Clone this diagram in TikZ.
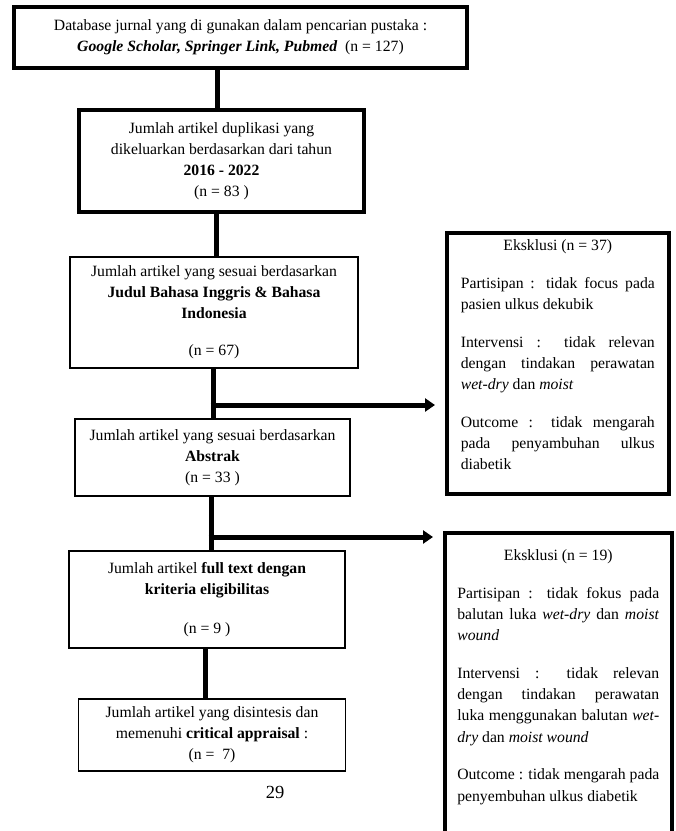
\documentclass[tikz,border=0pt]{standalone}
\usepackage{fontspec}
\setmainfont{Liberation Serif}
\usetikzlibrary{arrows.meta}

\tikzset{
  mainbox/.style={draw, line width=3.6pt, inner sep=0pt, align=center,
    font=\fontsize{15.7}{21}\selectfont},
  stagebox/.style={draw, line width=1.3pt, inner sep=0pt, align=center,
    font=\fontsize{15.7}{21}\selectfont},
  exclbox/.style={draw, line width=3.6pt, inner ysep=7pt, anchor=north west,
    font=\fontsize{15.7}{21.2}\selectfont},
  link/.style={line width=5pt},
  branch/.style={line width=5pt, -{Triangle[length=10pt,width=13pt]}, shorten >=10pt},
}
\newcommand{\exclpar}[3]{\parbox[t][#1][t]{#2}{\setlength{\parskip}{16.5pt}%
  \hyphenpenalty=10000 \tolerance=10000 #3}}

\begin{document}
\begin{tikzpicture}[x=1pt,y=-1pt]
  \clip (0,0) rectangle (676,831);
  \fill[white] (0,0) rectangle (676,831);

  % flow boxes
  \node[mainbox, minimum width=453pt, minimum height=61pt] (db) at (240.5,37.5)
    {Database jurnal yang di gunakan dalam pencarian pustaka :\\
     \textbf{\textit{Google Scholar, Springer Link, Pubmed}}\ \ (n = 127)};
  \node[mainbox, minimum width=285pt, minimum height=102pt] (dup) at (221.5,161)
    {Jumlah artikel duplikasi yang\\ dikeluarkan berdasarkan dari tahun\\
     \textbf{2016 - 2022}\\ (n = 83\ )};
  \node[stagebox, minimum width=288pt, minimum height=111pt] (judul) at (214,312.5)
    {Jumlah artikel yang sesuai berdasarkan\\ \textbf{Judul Bahasa Inggris \& Bahasa}\\
     \textbf{Indonesia}\\[16pt] (n = 67)};
  \node[stagebox, minimum width=275pt, minimum height=77pt] (abstrak) at (212.5,457.5)
    {Jumlah artikel yang sesuai berdasarkan\\ \textbf{Abstrak}\\ (n = 33\ )};
  \node[stagebox, minimum width=276pt, minimum height=97pt] (fulltext) at (207,599.5)
    {Jumlah artikel \textbf{full text dengan}\\ \textbf{kriteria eligibilitas}\\[18pt] (n = 9\ )};
  \node[stagebox, minimum width=267pt, minimum height=72pt] (sintesis) at (212,735)
    {Jumlah artikel yang disintesis dan\\ memenuhi \textbf{critical appraisal} :\\ (n =\ \ 7)};

  % exclusion boxes
  \node[exclbox, inner xsep=14pt] (exclA) at (445,231)
    {\exclpar{247pt}{194pt}{{\centering Eksklusi (n = 37)\par}
      Partisipan : tidak focus pada\linebreak pasien ulkus dekubik\par
      Intervensi : tidak relevan\linebreak dengan tindakan perawatan\linebreak
      \textit{wet-dry} dan \textit{moist}\par
      Outcome : tidak mengarah\linebreak pada penyambuhan ulkus\linebreak diabetik}};
  \node[exclbox, inner xsep=12.5pt, inner ysep=17pt] (exclB) at (443,531)
    {\exclpar{320pt}{202pt}{{\centering Eksklusi (n = 19)\par}
      Partisipan : tidak fokus pada\linebreak balutan luka \textit{wet-dry} dan \textit{moist}\linebreak
      \textit{wound}\par
      Intervensi : tidak relevan\linebreak dengan tindakan perawatan\linebreak
      luka menggunakan balutan \textit{wet-}\linebreak \textit{dry} dan \textit{moist wound}\par
      Outcome : tidak mengarah pada\linebreak penyembuhan ulkus diabetik}};

  \node[font=\fontsize{18.5}{20}\selectfont] (page) at (275,792) {29};

  % connectors
  \coordinate (spineA) at (217,0);
  \coordinate (spineB) at (216,0);
  \coordinate (spineC) at (213,0);
  \coordinate (spineD) at (211,0);
  \coordinate (spineE) at (205,0);
  \coordinate (forkA) at (213,405);
  \coordinate (forkB) at (211,537);
  \draw[link] (db.south -| spineA) -- (dup.north -| spineA);
  \draw[link] (dup.south -| spineB) -- (judul.north -| spineB);
  \draw[link] (judul.south -| spineC) -- (abstrak.north -| spineC);
  \draw[link] (abstrak.south -| spineD) -- (fulltext.north -| spineD);
  \draw[link] (fulltext.south -| spineE) -- (sintesis.north -| spineE);
  \draw[branch] ([xshift=-2.5pt]forkA) -- (forkA -| exclA.west);
  \draw[branch] ([xshift=-2.5pt]forkB) -- (forkB -| exclB.west);
\end{tikzpicture}
\end{document}
